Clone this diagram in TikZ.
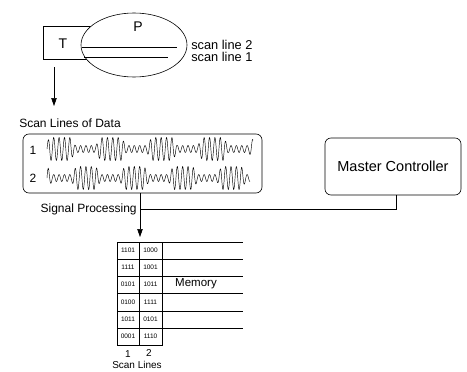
\documentclass[tikz,border=0pt]{standalone}
\usepackage{fontspec}
\setmainfont{Liberation Sans}
\usetikzlibrary{arrows.meta,shapes.geometric}
\begin{document}
\begin{tikzpicture}[x=1pt,y=-1pt, line width=0.6pt,
  box/.style={draw, rounded corners=6pt, inner sep=0pt},
  lbl/.style={inner sep=0pt, font=\fontsize{12}{14}\selectfont},
  big/.style={inner sep=0pt, font=\fontsize{14}{16}\selectfont},
  cell/.style={inner sep=0pt, font=\fontsize{6.5}{7}\selectfont},
  arr/.style={-{Triangle[length=8pt,width=5.5pt]}},
  wave/.style={line width=0.45pt},
  declare function={env(\q,\c,\p)=max(0,min(1,0.5+1.6*cos((360/\p)*(\q-\c))));}
]
\useasboundingbox (0,0) rectangle (467,372);

% T box and ellipse P
\node[draw, minimum width=57pt, minimum height=33pt, inner sep=0pt] (tbox) at (71.5,42.5) {};
\node[draw, ellipse, fill=white, minimum width=106pt, minimum height=64pt, inner sep=0pt] (ell) at (134,45) {};
\node[big] (T) at (63,44) {T};
\node[big] (P) at (138,27) {P};
\draw (81.5,47) -- (177,47);
\draw (84,57) -- (168,57);
\node[lbl, anchor=west, font=\fontsize{12.8}{14}\selectfont] (sl2) at (191,45) {scan line 2};
\node[lbl, anchor=west, font=\fontsize{12.8}{14}\selectfont] (sl1) at (191,57) {scan line 1};

% arrow down
\coordinate (a0) at (54,67);
\coordinate (a1) at (54,106);
\draw[arr] (a0) -- (a1);
\node[lbl, anchor=west] (sld) at (19,123) {Scan Lines of Data};

% data box
\node[box, minimum width=239pt, minimum height=59pt] (data) at (142.5,163.5) {};
\node[lbl] (n1) at (33,150) {1};
\node[lbl] (n2) at (33,178) {2};
\draw[wave] plot[domain=0:206, samples=800] ({\x+47}, {149-(3.5+8*env(\x+47,60,51))*sin(67*\x)});
\draw[wave] plot[domain=0:203, samples=800] ({\x+47}, {178-(3.5+8*env(\x+47,86,48.5))*sin(67*\x)});

% master controller
\node[box, minimum width=136pt, minimum height=57pt, font=\fontsize{14.5}{17}\selectfont] (mc) at (393,166.5) {Master Controller};

% connectors
\coordinate (j) at (140,209);
\coordinate (mt) at (140,237);
\draw ([xshift=3pt]mc.south) |- (j);
\draw (data.south -| j) -- (j);
\draw[arr] (j) -- (mt);
\node[lbl, anchor=east] (sp) at (137,209) {Signal Processing};

% memory table
\draw (117,242) rectangle (162,345);
\draw (139,242) -- (139,345);
\draw (162,242) -- (243,242);
\foreach \yy in {259,276,293,311,328} \draw (117,\yy) -- (243,\yy);
\foreach \a/\b/\yy [count=\i] in {1101/1000/250.5, 1111/1001/267.5, 0101/1011/284.5, 0100/1111/302, 1011/0101/319.5, 0001/1110/336.5} {
  \node[cell] (c1\i) at (128,\yy) {\a};
  \node[cell] (c2\i) at (150.5,\yy) {\b};
}
\node[inner sep=0pt, font=\fontsize{11.5}{13}\selectfont] (memlbl) at (196,284) {Memory};
\node[inner sep=0pt, font=\fontsize{10}{12}\selectfont] (s1) at (128,354) {1};
\node[inner sep=0pt, font=\fontsize{10}{12}\selectfont] (s2) at (149,353) {2};
\node[inner sep=0pt, font=\fontsize{10}{12}\selectfont] (sl) at (137,365) {Scan Lines};
\end{tikzpicture}
\end{document}
